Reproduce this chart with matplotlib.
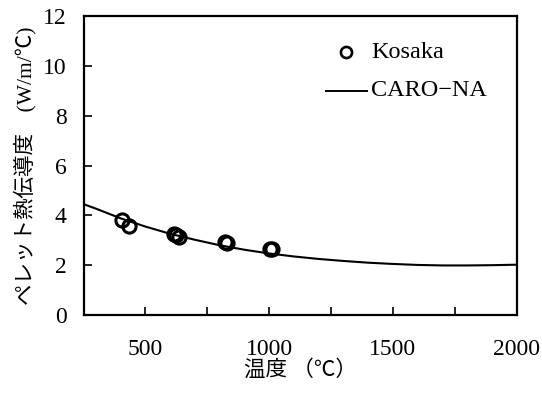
import matplotlib
matplotlib.use("Agg")
import matplotlib.pyplot as plt
from matplotlib.ticker import MultipleLocator

plt.rcParams['font.family'] = ['Liberation Serif', 'Noto Sans CJK JP', 'DejaVu Sans']

# Measured data (Kosaka)
kosaka_temp = [406, 433, 614, 635, 625, 820, 830, 1003, 1012]
kosaka_k = [3.81, 3.58, 3.24, 3.14, 3.2, 2.94, 2.9, 2.64, 2.66]

# CARO-NA curve
caro_temp = [250, 300, 400, 500, 600, 700, 800, 900, 1000, 1100, 1200, 1300,
             1400, 1500, 1600, 1700, 1800, 1900, 2000]
caro_k = [4.45, 4.27, 3.88, 3.55, 3.26, 3.02, 2.80, 2.62, 2.47, 2.35, 2.25, 2.17,
          2.10, 2.05, 2.01, 1.99, 1.99, 2.00, 2.02]

xticks = [500, 1000, 1500, 2000]
yticks = [0, 2, 4, 6, 8, 10, 12]

fig = plt.figure(figsize=(5.42, 3.97), dpi=100)
ax = fig.add_axes([0.1541, 0.2065, 0.7993, 0.7531])

ax.plot(caro_temp, caro_k, color='black', lw=1.5, zorder=2)
ax.plot(kosaka_temp, kosaka_k, linestyle='none', marker='o', markersize=9.5,
        markerfacecolor='none', markeredgecolor='black', markeredgewidth=2.2,
        zorder=3)

# legend (no frame), placed as in the original
ax.plot([1309], [10.55], linestyle='none', marker='o', markersize=8,
        markerfacecolor='none', markeredgecolor='black', markeredgewidth=1.9)
ax.text(1413, 10.55, 'Kosaka', fontsize=17.5, va='center', ha='left')
ax.plot([1228, 1396], [9.01, 9.01], color='black', lw=1.4)
ax.text(1413, 9.01, 'CARO\u2212NA', fontsize=17.5, va='center', ha='left')

ax.set_xlim(250, 2000)
ax.set_ylim(0, 12)
ax.set_xticks(xticks)
ax.xaxis.set_minor_locator(MultipleLocator(250))
ax.set_yticks(yticks)
ax.tick_params(axis='both', which='both', direction='in', labelsize=17,
               width=1.2, length=6, top=False, right=False)
ax.tick_params(axis='x', which='major', pad=17)
ax.tick_params(axis='y', which='major', pad=12)
for s in ax.spines.values():
    s.set_linewidth(1.6)

ax.set_xlabel('温度 （℃）', fontsize=15.5, labelpad=0)
ax.set_ylabel('ペレット熱伝導度\u3000(W/m/℃)', fontsize=15.5, labelpad=5)

fig.savefig('out.png', dpi=100)
